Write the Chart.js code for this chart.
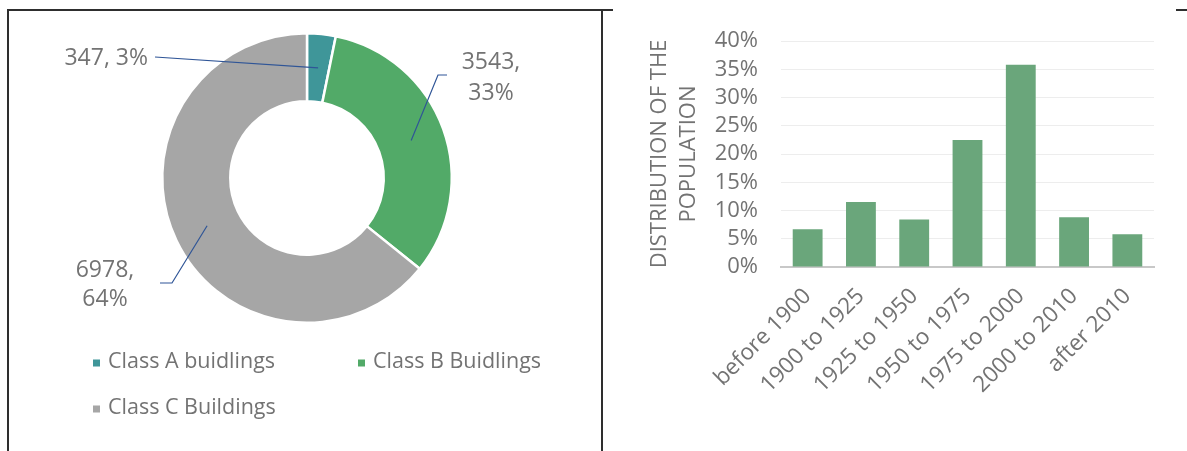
<!DOCTYPE html>
<html>
<head>
<meta charset="utf-8">
<script src="https://cdn.jsdelivr.net/npm/chart.js@4.4.1/dist/chart.umd.min.js"></script>
<style>
  html, body { margin: 0; padding: 0; background: #fff; }
  body { width: 1187px; height: 451px; position: relative; overflow: hidden; }
  .rule { position: absolute; background: #2e2e2e; }
  #pie { position: absolute; left: 9px; top: 11px; }
  #bars { position: absolute; left: 604px; top: 0; }
</style>
</head>
<body>
<div class="rule" style="left:7px;top:9px;width:606px;height:2px"></div>
<div class="rule" style="left:7px;top:9px;width:2px;height:442px"></div>
<div class="rule" style="left:601px;top:9px;width:2px;height:442px"></div>
<div class="rule" style="left:1176px;top:9px;width:11px;height:2px"></div>
<canvas id="pie" width="591" height="440" style="width:591px;height:440px"></canvas>
<canvas id="bars" width="583" height="451" style="width:583px;height:451px"></canvas>
<script>
// Building stock by class
const buildingClasses = ['Class A buidlings', 'Class B Buidlings', 'Class C Buildings'];
const buildingCounts = [347, 3543, 6978];
const classColors = ['#3f9699', '#52aa68', '#a6a6a6'];

// Share of the population by construction period (%)
const periods = ['before 1900', '1900 to 1925', '1925 to 1950', '1950 to 1975', '1975 to 2000', '2000 to 2010', 'after 2010'];
const populationShare = [6.7, 11.5, 8.4, 22.5, 35.8, 8.8, 5.8];
const shareTicks = [0, 5, 10, 15, 20, 25, 30, 35, 40];

const FONT = '"Open Sans", "Noto Sans", sans-serif';
const TEXT = '#737373';

// Callout labels with leader lines, placed relative to the doughnut centre
const calloutPlacement = [
  { split: false, align: 'right', at: [-159, -120], gap: 0, path: [[-152, -121]] },
  { split: true, align: 'center', at: [184, -116], gap: 31, path: [[131, -103], [140, -103]] },
  { split: true, align: 'center', at: [-202, 92], gap: 29, path: [[-135, 105], [-147, 105]] }
];

const calloutLabels = {
  id: 'calloutLabels',
  afterDatasetsDraw(chart) {
    const { ctx } = chart;
    const values = chart.data.datasets[0].data;
    const total = values.reduce((a, b) => a + b, 0);
    const meta = chart.getDatasetMeta(0);
    meta.data.forEach((arc, i) => {
      const p = calloutPlacement[i];
      const { x, y, startAngle, endAngle, innerRadius, outerRadius } =
        arc.getProps(['x', 'y', 'startAngle', 'endAngle', 'innerRadius', 'outerRadius'], true);
      const mid = (startAngle + endAngle) / 2;
      const r = (innerRadius + outerRadius) / 2;
      ctx.save();
      ctx.strokeStyle = '#2f5597';
      ctx.lineWidth = 1.2;
      ctx.beginPath();
      ctx.moveTo(x + Math.cos(mid) * r, y + Math.sin(mid) * r);
      p.path.forEach(([dx, dy]) => ctx.lineTo(x + dx, y + dy));
      ctx.stroke();
      const pct = Math.round(values[i] / total * 100) + '%';
      const lines = p.split ? [values[i] + ',', pct] : [values[i] + ', ' + pct];
      ctx.fillStyle = TEXT;
      ctx.font = '23px ' + FONT;
      ctx.textAlign = p.align;
      ctx.textBaseline = 'middle';
      lines.forEach((t, k) => ctx.fillText(t, x + p.at[0], y + p.at[1] + k * p.gap));
      ctx.restore();
    });
  }
};

// Two-column legend under the doughnut
const gridLegend = {
  id: 'gridLegend',
  afterDraw(chart, args, opts) {
    const { ctx } = chart;
    const colors = chart.data.datasets[0].backgroundColor;
    ctx.save();
    ctx.font = '21.5px ' + FONT;
    ctx.textBaseline = 'middle';
    ctx.textAlign = 'left';
    chart.data.labels.forEach((label, i) => {
      const col = i % 2, row = Math.floor(i / 2);
      const bx = opts.columns[col], by = opts.rows[row];
      ctx.fillStyle = colors[i];
      ctx.fillRect(bx, by - 2.5, 7, 7);
      ctx.fillStyle = TEXT;
      ctx.fillText(label, bx + 15, by);
    });
    ctx.restore();
  }
};

new Chart(document.getElementById('pie'), {
  type: 'doughnut',
  data: {
    labels: buildingClasses,
    datasets: [{
      data: buildingCounts,
      backgroundColor: classColors,
      borderColor: '#ffffff',
      borderWidth: 2.5,
      hoverOffset: 0
    }]
  },
  options: {
    responsive: false,
    animation: false,
    cutout: '53%',
    layout: { padding: { left: 152, right: 147, top: 21, bottom: 127 } },
    plugins: {
      legend: { display: false },
      tooltip: { enabled: false },
      gridLegend: { columns: [84, 349], rows: [351, 397] }
    }
  },
  plugins: [calloutLabels, gridLegend]
});

new Chart(document.getElementById('bars'), {
  type: 'bar',
  data: {
    labels: periods,
    datasets: [{
      data: populationShare,
      backgroundColor: '#6aa67b',
      categoryPercentage: 1,
      barPercentage: 0.56
    }]
  },
  options: {
    responsive: false,
    animation: false,
    layout: { padding: { top: 41, right: 33, bottom: 0, left: 0 } },
    plugins: { legend: { display: false }, tooltip: { enabled: false } },
    scales: {
      x: {
        grid: { display: false, drawTicks: false },
        border: { color: '#c8c8c8', width: 2 },
        ticks: {
          color: TEXT,
          font: { family: FONT, size: 22.5 },
          minRotation: 45,
          maxRotation: 45,
          autoSkip: false,
          padding: 16
        },
        afterFit(scale) { scale.height = 184; }
      },
      y: {
        min: 0,
        max: 40,
        grid: { color: '#ededed', drawTicks: false },
        border: { display: false },
        ticks: {
          color: TEXT,
          font: { family: FONT, size: 22 },
          padding: 23,
          autoSkip: false,
          callback: v => v + '%'
        },
        afterBuildTicks(scale) { scale.ticks = shareTicks.map(v => ({ value: v })); },
        afterFit(scale) { scale.width = 177; },
        title: {
          display: true,
          text: ['DISTRIBUTION OF THE', 'POPULATION'],
          color: TEXT,
          font: { family: FONT, size: 22, lineHeight: 1.32 },
          padding: { top: 41, bottom: 0 }
        }
      }
    }
  }
});
</script>
</body>
</html>
